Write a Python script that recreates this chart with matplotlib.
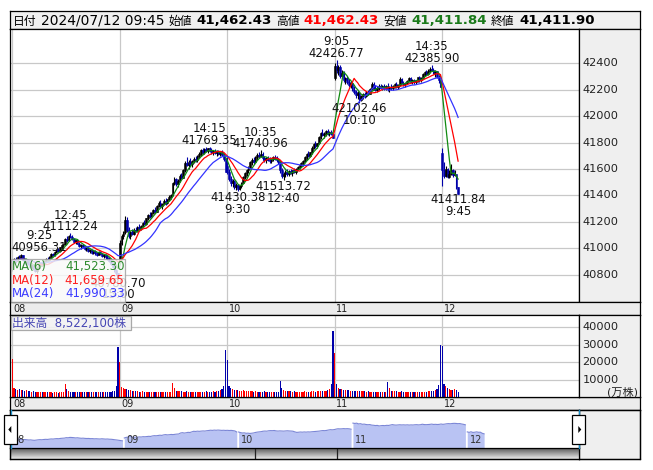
import numpy as np
import pandas as pd
import matplotlib
matplotlib.use("Agg")
import matplotlib.pyplot as plt
from matplotlib.patches import Rectangle, Polygon
from matplotlib.transforms import blended_transform_factory as blend, IdentityTransform

plt.rcParams['font.family'] = ['DejaVu Sans', 'Noto Sans CJK JP']

# ---------------- data (5-minute bars: open, high, low, close) ----------------
days = ['08', '09', '10', '11', '12']
bars_per_day = 61

d08 = [(40870, 40910, 40830, 40895), (40895, 40925, 40880, 40915), (40915, 40930, 40890, 40900),
       (40900, 40940, 40895, 40935), (40935, 40950, 40915, 40925), (40925, 40956.31, 40920, 40945),
       (40945, 40950, 40905, 40910), (40910, 40920, 40880, 40890), (40890, 40905, 40870, 40900),
       (40900, 40910, 40875, 40880), (40880, 40890, 40850, 40860), (40860, 40880, 40840, 40870),
       (40870, 40875, 40835, 40845), (40845, 40860, 40820, 40830), (40830, 40855, 40815, 40850),
       (40850, 40880, 40845, 40875), (40875, 40895, 40865, 40890), (40890, 40900, 40870, 40880),
       (40880, 40910, 40875, 40905), (40905, 40925, 40895, 40920), (40920, 40935, 40905, 40910),
       (40910, 40940, 40905, 40935), (40935, 40960, 40930, 40955), (40955, 40965, 40940, 40945),
       (40945, 40975, 40940, 40970), (40970, 40990, 40960, 40985), (40985, 41000, 40970, 40975),
       (40975, 41010, 40970, 41005), (41005, 41030, 40995, 41020), (41020, 41035, 41010, 41030),
       (41030, 41075, 41025, 41070), (41070, 41095, 41050, 41060), (41060, 41100, 41055, 41095),
       (41095, 41112.24, 41075, 41085), (41085, 41100, 41060, 41070), (41070, 41080, 41040, 41045),
       (41045, 41065, 41030, 41060), (41060, 41070, 41030, 41035), (41035, 41045, 41005, 41015),
       (41015, 41030, 40995, 41025), (41025, 41035, 41000, 41005), (41005, 41015, 40985, 40995),
       (40995, 41010, 40980, 41000), (41000, 41005, 40970, 40980), (40980, 40995, 40965, 40985),
       (40985, 40990, 40955, 40965), (40965, 40980, 40955, 40975), (40975, 40985, 40950, 40960),
       (40960, 40970, 40940, 40950), (40950, 40975, 40945, 40970), (40970, 40975, 40945, 40955),
       (40955, 40960, 40930, 40940), (40940, 40955, 40925, 40950), (40950, 40955, 40920, 40930),
       (40930, 40945, 40910, 40925), (40925, 40935, 40895, 40905), (40905, 40915, 40870, 40880),
       (40880, 40895, 40850, 40860), (40860, 40870, 40820, 40835), (40835, 40845, 40800, 40810),
       (40810, 40810, 40780.70, 40780.70)]

d09 = [(40900, 41060, 40890, 41040), (41040, 41110, 41020, 41095), (41095, 41130, 41070, 41120),
       (41120, 41240, 41110, 41215), (41215, 41235, 41120, 41135), (41135, 41160, 41080, 41095),
       (41095, 41130, 41070, 41120), (41120, 41145, 41100, 41110), (41110, 41150, 41100, 41140),
       (41140, 41160, 41120, 41130), (41130, 41170, 41125, 41160), (41160, 41180, 41140, 41150),
       (41150, 41175, 41135, 41170), (41170, 41200, 41160, 41190), (41190, 41215, 41175, 41180),
       (41180, 41230, 41175, 41225), (41225, 41260, 41215, 41250), (41250, 41270, 41230, 41240),
       (41240, 41275, 41235, 41265), (41265, 41300, 41255, 41290), (41290, 41310, 41265, 41275),
       (41275, 41330, 41270, 41320), (41320, 41360, 41310, 41345), (41345, 41365, 41310, 41320),
       (41320, 41345, 41300, 41335), (41335, 41370, 41325, 41360), (41360, 41380, 41330, 41345),
       (41345, 41375, 41335, 41370), (41370, 41400, 41360, 41390), (41390, 41410, 41375, 41400),
       (41400, 41500, 41395, 41490), (41490, 41540, 41475, 41520), (41520, 41530, 41470, 41485),
       (41485, 41520, 41465, 41510), (41510, 41560, 41500, 41550), (41550, 41570, 41520, 41535),
       (41535, 41600, 41530, 41590), (41590, 41660, 41580, 41645), (41645, 41690, 41620, 41630),
       (41630, 41665, 41600, 41655), (41655, 41680, 41625, 41640), (41640, 41670, 41615, 41660),
       (41660, 41690, 41645, 41675), (41675, 41700, 41650, 41665), (41665, 41705, 41655, 41695),
       (41695, 41725, 41680, 41715), (41715, 41750, 41700, 41740), (41740, 41755, 41715, 41725),
       (41725, 41760, 41715, 41750), (41750, 41765, 41725, 41735), (41735, 41760, 41720, 41755),
       (41755, 41769.35, 41730, 41740), (41740, 41755, 41715, 41725), (41725, 41745, 41705, 41735),
       (41735, 41750, 41710, 41720), (41720, 41740, 41700, 41730), (41730, 41745, 41705, 41715),
       (41715, 41735, 41695, 41725), (41725, 41740, 41695, 41705), (41705, 41720, 41660, 41675),
       (41675, 41680, 41580.17, 41580.17)]

d10 = [(41620, 41690, 41560, 41580), (41580, 41600, 41510, 41525), (41525, 41545, 41470, 41490),
       (41490, 41520, 41460, 41505), (41505, 41515, 41450, 41465), (41465, 41490, 41440, 41475),
       (41475, 41485, 41430.38, 41450), (41450, 41480, 41440, 41470), (41470, 41500, 41455, 41495),
       (41495, 41545, 41490, 41540), (41540, 41580, 41525, 41570), (41570, 41600, 41550, 41590),
       (41590, 41620, 41570, 41610), (41610, 41660, 41600, 41650), (41650, 41680, 41630, 41665),
       (41665, 41690, 41640, 41655), (41655, 41700, 41650, 41690), (41690, 41720, 41670, 41705),
       (41705, 41725, 41680, 41700), (41700, 41740.96, 41690, 41715), (41715, 41730, 41670, 41680),
       (41680, 41700, 41650, 41665), (41665, 41690, 41645, 41680), (41680, 41700, 41660, 41670),
       (41670, 41690, 41645, 41660), (41660, 41685, 41645, 41675), (41675, 41700, 41660, 41690),
       (41690, 41705, 41665, 41675), (41675, 41695, 41655, 41665), (41665, 41680, 41640, 41650),
       (41650, 41660, 41570, 41590), (41590, 41610, 41530, 41545), (41545, 41575, 41513.72, 41560),
       (41560, 41590, 41540, 41580), (41580, 41600, 41550, 41565), (41565, 41590, 41545, 41585),
       (41585, 41600, 41560, 41570), (41570, 41595, 41550, 41590), (41590, 41610, 41570, 41580),
       (41580, 41605, 41565, 41600), (41600, 41625, 41590, 41615), (41615, 41640, 41600, 41630),
       (41630, 41655, 41615, 41645), (41645, 41670, 41625, 41660), (41660, 41700, 41650, 41690),
       (41690, 41720, 41670, 41710), (41710, 41735, 41690, 41700), (41700, 41730, 41690, 41725),
       (41725, 41770, 41715, 41760), (41760, 41800, 41750, 41790), (41790, 41810, 41760, 41775),
       (41775, 41800, 41755, 41795), (41795, 41850, 41790, 41840), (41840, 41880, 41825, 41870),
       (41870, 41900, 41850, 41860), (41860, 41880, 41835, 41865), (41865, 41895, 41850, 41885),
       (41885, 41900, 41860, 41870), (41870, 41890, 41850, 41880), (41880, 41895, 41855, 41865),
       (41865, 41870, 41831.99, 41831.99)]

d11 = [(42290, 42400, 42270, 42380), (42380, 42426.77, 42330, 42350), (42350, 42390, 42310, 42375),
       (42375, 42385, 42290, 42305), (42305, 42350, 42290, 42330), (42330, 42340, 42260, 42275),
       (42275, 42300, 42240, 42290), (42290, 42305, 42240, 42255), (42255, 42280, 42220, 42235),
       (42235, 42265, 42215, 42250), (42250, 42260, 42190, 42200), (42200, 42230, 42170, 42185),
       (42185, 42200, 42140, 42160), (42160, 42190, 42130, 42175), (42175, 42180, 42102.46, 42125),
       (42125, 42160, 42115, 42150), (42150, 42175, 42130, 42165), (42165, 42185, 42140, 42150),
       (42150, 42190, 42145, 42180), (42180, 42200, 42160, 42170), (42170, 42215, 42165, 42205),
       (42205, 42260, 42195, 42245), (42245, 42255, 42200, 42215), (42215, 42235, 42190, 42200),
       (42200, 42225, 42185, 42215), (42215, 42240, 42200, 42230), (42230, 42245, 42205, 42215),
       (42215, 42235, 42195, 42225), (42225, 42240, 42200, 42210), (42210, 42235, 42200, 42225),
       (42225, 42250, 42190, 42205), (42205, 42230, 42185, 42220), (42220, 42240, 42200, 42210),
       (42210, 42235, 42195, 42230), (42230, 42250, 42215, 42240), (42240, 42255, 42210, 42220),
       (42220, 42245, 42205, 42235), (42235, 42295, 42230, 42280), (42280, 42290, 42240, 42250),
       (42250, 42265, 42225, 42240), (42240, 42260, 42220, 42250), (42250, 42275, 42240, 42265),
       (42265, 42300, 42255, 42290), (42290, 42300, 42250, 42260), (42260, 42280, 42240, 42270),
       (42270, 42285, 42245, 42255), (42255, 42275, 42240, 42265), (42265, 42300, 42255, 42298),
       (42298, 42305, 42260, 42270), (42270, 42300, 42260, 42290), (42290, 42330, 42280, 42320),
       (42320, 42345, 42305, 42335), (42335, 42350, 42310, 42320), (42320, 42355, 42315, 42345),
       (42345, 42370, 42330, 42360), (42360, 42385.90, 42340, 42350), (42350, 42365, 42320, 42330),
       (42330, 42350, 42300, 42340), (42340, 42345, 42290, 42300), (42300, 42310, 42250, 42270),
       (42270, 42275, 42224.02, 42224.02)]

d12 = [(41720, 41760, 41470, 41590), (41590, 41650, 41530, 41545), (41545, 41620, 41540, 41600),
       (41600, 41610, 41530, 41541), (41541, 41590, 41530, 41560), (41560, 41640, 41555, 41590),
       (41590, 41600, 41540, 41555), (41555, 41590, 41545, 41560.47), (41560.47, 41565, 41450, 41462.43),
       (41462.43, 41462.43, 41411.84, 41411.90)]

# volume (10k shares) per bar
v08 = [22000, 5200, 4800, 4300, 4600, 3900, 4100, 3500, 3800, 3300, 3400, 3000, 3200, 2900, 2800, 3000,
       2700, 2800, 2600, 2900, 2700, 2600, 2800, 2500, 2700, 2600, 2500, 2700, 2600, 2800, 7300, 4500,
       3300, 3100, 3000, 2900, 3100, 2800, 2700, 2900, 2800, 2600, 2800, 2700, 2600, 2800, 2700, 2900,
       2700, 2800, 2600, 2800, 2700, 2900, 3000, 2800, 3100, 3300, 3600, 6200, 28500]
v09 = [20000, 5600, 5300, 4700, 4400, 3900, 4200, 3700, 3500, 3300, 3400, 3100, 3000, 3200, 2900, 3000,
       2800, 3100, 2800, 2900, 2700, 3000, 2800, 2900, 2700, 2800, 2600, 2900, 2700, 2800, 8000, 5300,
       3700, 3400, 3200, 3300, 3100, 3000, 3200, 2900, 3000, 2800, 3100, 2900, 3000, 2800, 3100, 2900,
       3000, 3200, 2900, 3100, 3000, 3300, 3100, 3400, 3500, 3800, 4500, 6200, 27000]
v10 = [21500, 6300, 5200, 4600, 4300, 4100, 4000, 3700, 3500, 3800, 3400, 3300, 3500, 3200, 3300, 3100,
       3200, 3000, 3100, 2900, 3000, 3200, 2900, 3000, 2800, 2900, 2700, 3000, 2800, 2900, 9000, 5200,
       4100, 3600, 3400, 3200, 3300, 3100, 3200, 2900, 3000, 3100, 2900, 3000, 3200, 2900, 3100, 3000,
       3200, 3400, 3100, 3300, 3200, 3500, 3300, 3600, 3700, 4100, 4600, 7200, 38000]
v11 = [25000, 7200, 5300, 4800, 4400, 4200, 4100, 3900, 3800, 3600, 3700, 3500, 3400, 3600, 3300, 3400,
       3200, 3300, 3100, 3200, 3000, 3100, 2900, 3000, 2800, 2900, 2700, 3000, 2800, 2900, 8500, 5000,
       3600, 3400, 3200, 3300, 3000, 3100, 3400, 2900, 3000, 3100, 2900, 3000, 2800, 2900, 3100, 2900,
       3000, 2800, 2900, 3000, 3100, 3200, 3400, 3500, 3700, 4000, 4500, 7000, 30000]
v12 = [29000, 7500, 6300, 5200, 4700, 4300, 4000, 4500, 4200, 2900]

# swing high / low labels: day, bar within day, time text, value, kind
lab_day = ['08', '08', '08', '09', '10', '10', '10', '11', '11', '11', '12']
lab_bar = [5, 33, 60, 51, 6, 19, 32, 1, 14, 55, 9]
lab_time = ['9:25', '12:45', '15:00', '14:15', '9:30', '10:35', '12:40', '9:05', '10:10', '14:35', '9:45']
lab_val = [40956.31, 41112.24, 40780.70, 41769.35, 41430.38, 41740.96, 41513.72, 42426.77, 42102.46,
           42385.90, 41411.84]
lab_kind = ['H', 'H', 'L', 'H', 'L', 'H', 'L', 'H', 'L', 'H', 'L']

price_ticks = [40800, 41000, 41200, 41400, 41600, 41800, 42000, 42200, 42400]
vol_ticks = [10000, 20000, 30000, 40000]

ma_periods = [6, 12, 24]
ma_text = ['41,523.30', '41,659.65', '41,990.33']
hdr_labels = ['日付', '始値', '高値', '安値', '終値']
hdr_values = ['2024/07/12 09:45', '41,462.43', '41,462.43', '41,411.84', '41,411.90']
vol_label = '出来高  8,522,100株'

# ---------------- assemble ----------------
ohlc = np.array(d08 + d09 + d10 + d11 + d12, dtype=float)
o, h, l, c = ohlc.T
vol = np.array(v08 + v09 + v10 + v11 + v12, dtype=float)
idx = np.arange(len(c))
day_start = {d: k * bars_per_day for k, d in enumerate(days)}
up = c >= o

W, H = 653, 470
fig = plt.figure(figsize=(W / 100, H / 100), dpi=100)
fig.patch.set_facecolor('white')


def ax_px(x0, y0, x1, y1, **kw):
    return fig.add_axes([x0 / W, 1 - y1 / H, (x1 - x0) / W, (y1 - y0) / H], **kw)


def style(ax, fc='white'):
    ax.set_facecolor(fc)
    ax.tick_params(left=False, bottom=False, labelleft=False, labelbottom=False)
    for s in ax.spines.values():
        s.set_color('#000000')
        s.set_linewidth(0.9)


GRID = '#c8c8c8'
DOWN = '#0000aa'
PX = 1.762                       # pixels per bar in the main panels
XLIM = ((10 - 12.3) / PX, (579 - 12.3) / PX)
YLIM = (40592, 42660)

# ---------------- header ----------------
ax_h = ax_px(10, 11, 640, 29)
style(ax_h, '#f0f0f0')

# ---------------- price panel ----------------
ax_p = ax_px(10, 29, 579, 302)
style(ax_p)
ax_p.set_xlim(*XLIM)
ax_p.set_ylim(*YLIM)
for v in price_ticks:
    ax_p.axhline(v, color=GRID, lw=0.9, zorder=0)
for d in days:
    ax_p.axvline(day_start[d] - 0.1, color=GRID, lw=0.9, zorder=0)
cols = np.where(up, '#000000', DOWN)
ax_p.vlines(idx, l, h, colors=cols, lw=0.8, zorder=2)
ax_p.bar(idx, c - o, bottom=o, width=0.9, color=cols, edgecolor=cols, lw=0.4, zorder=2)

s = pd.Series(c)
ma_cols = ['#108a10', '#ff0000', '#3333ff']
for p, mc in zip(ma_periods, ma_cols):
    ax_p.plot(idx, s.rolling(p, min_periods=1).mean(), color=mc, lw=0.9, zorder=3)

# swing labels
fig.canvas.draw()
left_px = ax_p.transData.transform((XLIM[0], 0))[0]
for d, b, t, v, k in zip(lab_day, lab_bar, lab_time, lab_val, lab_kind):
    i = day_start[d] + b
    xd = ax_p.transData.transform((i, v))[0]
    dx = max(0, left_px + 29 - xd)
    offs = (6.5, 18.2) if k == 'H' else (-6.0, -17.7)
    ax_p.annotate(f'{v:.2f}', (i, v), xytext=(dx, offs[0]), textcoords='offset pixels',
                  ha='center', va='center', fontsize=8.4, color='#111111', zorder=4)
    ax_p.annotate(t, (i, v), xytext=(dx, offs[1]), textcoords='offset pixels',
                  ha='center', va='center', fontsize=8.4, color='#111111', zorder=4)

# price axis labels
ax_pr = ax_px(579, 29, 640, 302)
style(ax_pr, '#efefef')
ax_pr.set_ylim(*YLIM)
tr = blend(ax_pr.transAxes, ax_pr.transData)
for v in price_ticks:
    ax_pr.text(3.5 / 61, v, f'{v}', transform=tr, va='center', ha='left', fontsize=8.2, color='#222222')

# ---------------- date strips ----------------
for (y0, y1) in [(302, 315), (397, 410)]:
    ax_d = ax_px(10, y0, 640, y1)
    style(ax_d, '#ececec')
    for d in days:
        xp = ax_p.transData.transform((day_start[d], 0))[0]
        ax_d.text(xp + 1.5, 0.45, d, fontsize=7, color='#222222', va='center', ha='left',
                  transform=blend(IdentityTransform(), ax_d.transAxes))

# ---------------- volume panel ----------------
VYLIM = (0, 47070)
ax_v = ax_px(10, 315, 579, 397)
style(ax_v)
ax_v.set_xlim(*XLIM)
ax_v.set_ylim(*VYLIM)
for v in vol_ticks:
    ax_v.axhline(v, color=GRID, lw=0.9, zorder=0)
for d in days:
    ax_v.axvline(day_start[d] - 0.1, color=GRID, lw=0.9, zorder=0)
ax_v.bar(idx, vol, width=0.65, color=np.where(up, '#ff0000', DOWN), zorder=2)

ax_vr = ax_px(579, 315, 640, 397)
style(ax_vr, '#efefef')
ax_vr.set_ylim(*VYLIM)
trv = blend(ax_vr.transAxes, ax_vr.transData)
for v in vol_ticks:
    ax_vr.text(3.5 / 61, v, f'{v}', transform=trv, va='center', ha='left', fontsize=8.2, color='#222222')
ax_vr.text(0.96, 5.2 / 82, '(万株)', transform=ax_vr.transAxes, ha='right', va='center',
           fontsize=8, color='#222222')

# ---------------- navigator ----------------
NX = 1.874
NYLIM = (40140, 43560)
ax_nr = ax_px(579, 410, 640, 459)
style(ax_nr, '#efefef')
ax_n = ax_px(10, 410, 579, 448)
style(ax_n)
ax_n.spines['bottom'].set_visible(False)
ax_n.set_xlim(0, 569 / NX)
ax_n.set_ylim(*NYLIM)
for d in days:
    sl = slice(day_start[d], min(day_start[d] + bars_per_day, len(c)))
    ax_n.fill_between(idx[sl], c[sl], NYLIM[0], color='#b9c3f3', lw=0)
    ax_n.plot(idx[sl], c[sl], color='#7b86d6', lw=0.8)
    ax_n.annotate(d, (day_start[d], NYLIM[0]), xytext=(2.5, 8), textcoords='offset pixels',
                  fontsize=7, color='#333333', ha='left', va='center')

ax_s = ax_px(10, 448, 579, 459)
style(ax_s)
ax_s.set_xlim(10, 579)
ax_s.set_ylim(1, 0)
grad = np.linspace(0.35, 0.92, 32)[:, None]
ax_s.imshow(grad, cmap='gray', vmin=0, vmax=1, extent=(10, 579, 1, 0), aspect='auto')
for xd in (255, 337):
    ax_s.axvline(xd, color='#222222', lw=0.9)

# ---------------- overlay (pixel coordinates) ----------------
ax_o = ax_px(0, 0, 653, 470)
ax_o.set_xlim(0, W)
ax_o.set_ylim(H, 0)
ax_o.axis('off')
ax_o.patch.set_alpha(0)

rend = fig.canvas.get_renderer()
x = 13
items = [(hdr_labels[0], 8.5, 'normal', '#000000'), (hdr_values[0], 10, 'normal', '#000000'),
         (hdr_labels[1], 8.5, 'normal', '#000000'), (hdr_values[1], 9.6, 'bold', '#000000'),
         (hdr_labels[2], 8.5, 'normal', '#000000'), (hdr_values[2], 9.6, 'bold', '#ff0000'),
         (hdr_labels[3], 8.5, 'normal', '#000000'), (hdr_values[3], 9.6, 'bold', '#1a7a1a'),
         (hdr_labels[4], 8.5, 'normal', '#000000'), (hdr_values[4], 9.6, 'bold', '#000000')]
for txt, fs, fw, col in items:
    t = ax_o.text(x, 21, txt, fontsize=fs, fontweight=fw, color=col, ha='left', va='center')
    x += t.get_window_extent(rend).width + 4.3

# MA legend box
ax_o.add_patch(Rectangle((10.5, 259), 114.5, 42.5, facecolor='#fafafa', alpha=0.82,
                         edgecolor='#a0a0a0', lw=0.9, zorder=5))
for k, (p, mc, mt) in enumerate(zip(ma_periods, ['#2e8b2e', '#ff2020', '#3c3cff'], ma_text)):
    yy = 266.7 + k * 13.6
    ax_o.text(12, yy, f'MA({p})', color=mc, fontsize=8.5, ha='left', va='center', zorder=6)
    ax_o.text(124.5, yy, mt, color=mc, fontsize=8.5, ha='right', va='center', zorder=6)

# volume caption box
ax_o.add_patch(Rectangle((10.5, 315.5), 120.5, 14.5, facecolor='#f2f2f2', alpha=0.9,
                         edgecolor='#a0a0a0', lw=0.9, zorder=5))
ax_o.text(12, 323, vol_label, color='#4646b4', fontsize=8.5, ha='left', va='center', zorder=6)

# navigator frame, range lines and handles
ax_o.add_patch(Rectangle((10, 410), 630, 49, facecolor='none', edgecolor='#000000', lw=0.9, zorder=5))
for xl in (10.7, 579.3):
    ax_o.plot([xl, xl], [410, 448], color='#1e90c8', lw=1.0, zorder=6)
for (hx0, hx1, tip, base) in [(4.3, 17.3, 8.3, 11.3), (572.3, 585.3, 581.3, 578.3)]:
    ax_o.add_patch(Rectangle((hx0, 415), hx1 - hx0, 29.3, facecolor='white', edgecolor='#000000',
                             lw=0.9, zorder=7))
    ax_o.add_patch(Polygon([(tip, 429.5), (base, 426), (base, 433)], closed=True,
                           facecolor='#000000', edgecolor='none', zorder=8))

fig.savefig('out.png', dpi=100)
